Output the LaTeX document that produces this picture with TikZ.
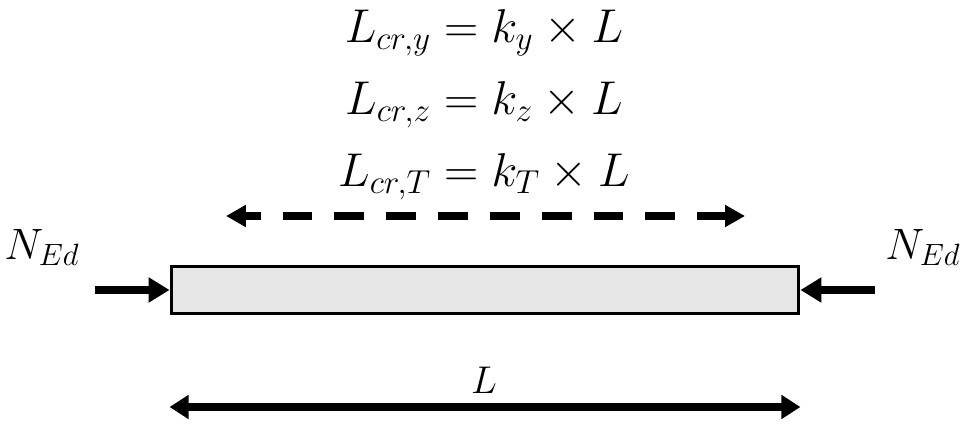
\documentclass[tikz,border=0pt]{standalone}
\usepackage{fix-cm}
\usepackage{amsmath}
\usetikzlibrary{arrows.meta, positioning}
\definecolor{beamgray}{HTML}{E6E6E6}

\tikzset{
    force/.style={line width=5.1pt, -{Triangle[length=0.42cm,width=0.48cm]}},
    buckle/.style={line width=4.2pt, dash pattern=on 17pt off 12.5pt, dash phase=8pt,
        {Triangle[length=0.4cm,width=0.42cm]}-{Triangle[length=0.4cm,width=0.42cm]}},
    dimline/.style={line width=4.4pt, {Triangle[length=0.38cm,width=0.46cm]}-{Triangle[length=0.38cm,width=0.46cm]}},
    eqn/.style={anchor=base, inner sep=0pt, font=\fontsize{27}{32}\selectfont},
    loadlabel/.style={anchor=base, inner sep=0pt, font=\fontsize{25}{30}\selectfont},
}

\begin{document}
\begin{tikzpicture}[x=0.02cm, y=-0.02cm]
    \useasboundingbox (0,0) rectangle (974,430);
    \node (eqy) [eqn] at (484,42) {$L_{cr,y} = k_y \times L$};
    \node (eqz) [eqn] at (484,114) {$L_{cr,z} = k_z \times L$};
    \node (eqT) [eqn] at (484,186) {$L_{cr,T} = k_T \times L$};
    \coordinate (bkl) at (226,216);
    \coordinate (bkr) at (745,216);
    \draw[buckle] (bkl) -- (bkr);
    \node (beam) [draw, line width=1.7pt, fill=beamgray, inner sep=0pt,
        minimum width=12.56cm, minimum height=0.94cm] at (485,290) {};
    \coordinate (fl) at (95,290);
    \coordinate (fr) at (875,290);
    \draw[force] (fl) -- (beam.west);
    \draw[force] (fr) -- (beam.east);
    \node (nl) [loadlabel] at (42,259) {$N_{Ed}$};
    \node (nr) [loadlabel] at (923,259) {$N_{Ed}$};
    \draw[dimline] (beam.west |- 0,407) -- (beam.east |- 0,407);
    \node (len) [loadlabel, font=\fontsize{22}{26}\selectfont] at (484,393) {$L$};
\end{tikzpicture}
\end{document}
